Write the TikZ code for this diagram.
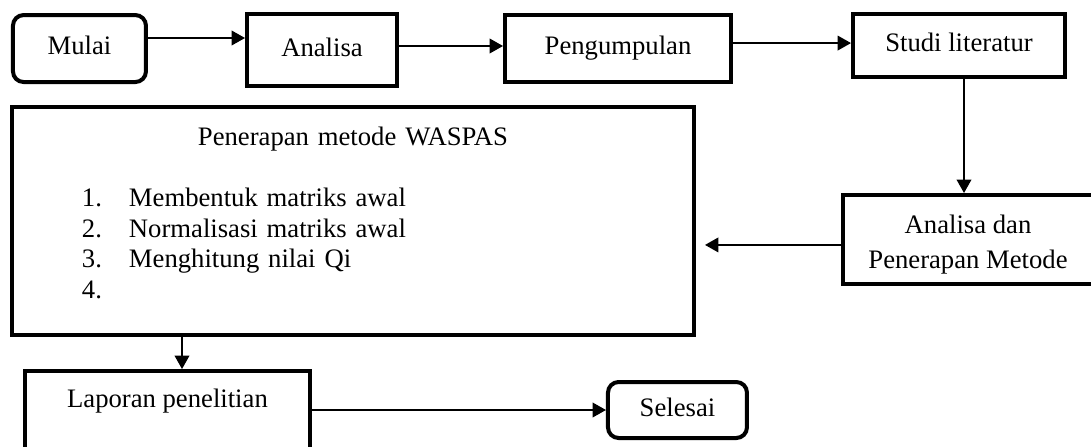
\documentclass[tikz,border=0pt]{standalone}
\usepackage{fontspec}
\setmainfont{Liberation Serif}
\usetikzlibrary{positioning, calc, arrows.meta}
\tikzset{
	procbox/.style={draw, line width=3pt, inner sep=0pt},
	onerow/.style={text height=13.5pt, text depth=4.5pt},
	termbox/.style={procbox, onerow, rounded corners=8pt},
	flow/.style={-{Triangle[length=10pt,width=11pt]}, line width=1.1pt},
}

\begin{document}
\begin{tikzpicture}[font=\fontsize{20}{23}\selectfont]
		\useasboundingbox (0pt,0pt) rectangle (818.25pt,-334.5pt);

		\node[termbox, minimum width=99.75pt, minimum height=50.25pt] (mulai) at (59.6pt,-36.4pt) {Mulai};
		\node[procbox, onerow, minimum width=112.5pt, minimum height=54pt] (analisa) at (241.5pt,-37.5pt) {Analisa};
		\node[procbox, onerow, minimum width=169.5pt, minimum height=50.25pt] (kumpul) at (463.5pt,-36.4pt) {Pengumpulan};
		\node[procbox, onerow, minimum width=159pt, minimum height=47.25pt] (studi) at (719.25pt,-34.1pt) {Studi literatur};
		\node[procbox, minimum width=187.5pt, minimum height=66.75pt, align=center,
			text height=46pt, text depth=3.2pt] (andan) at (726pt,-179.6pt) {Analisa dan\\[3pt] Penerapan Metode};

		\node[procbox, minimum width=511.5pt, minimum height=171pt, text width=511.5pt, align=left,
			text height=15pt, text depth=129pt] (waspas) at (264.75pt,-165.75pt) {%
			\makebox[\hsize]{Penerapan metode WASPAS}\\[23pt]
			\hspace*{52.5pt}\makebox[35.25pt][l]{1.}Membentuk matriks awal\\
			\hspace*{52.5pt}\makebox[35.25pt][l]{2.}Normalisasi matriks awal\\
			\hspace*{52.5pt}\makebox[35.25pt][l]{3.}Menghitung nilai Qi\\
			\hspace*{52.5pt}\makebox[35.25pt][l]{4.}};

		\node[procbox, minimum width=213.75pt, minimum height=75pt,
			label={[anchor=center, yshift=-24pt]north:Laporan penelitian}] (laporan) at (125.6pt,-315.75pt) {};
		\node[termbox, minimum width=104.25pt, minimum height=42pt] (selesai) at (508.1pt,-307.5pt) {Selesai};

		% alur
		\coordinate (m1) at ([yshift=7.9pt]mulai.east);
		\draw[flow] (m1) -- (m1 -| analisa.west);
		\coordinate (a1) at ([yshift=3pt]analisa.east);
		\draw[flow] (a1) -- (a1 -| kumpul.west);
		\coordinate (k1) at ([yshift=4.1pt]kumpul.east);
		\draw[flow] (k1) -- (k1 -| studi.west);
		\coordinate (s1) at ([xshift=3.75pt]studi.south);
		\draw[flow] (s1) -- (s1 |- andan.north);
		\coordinate (d1) at ([yshift=-4.1pt]andan.west);
		\draw[flow, shorten >=6.75pt] (d1) -- (d1 -| waspas.east);
		\coordinate (w1) at ([xshift=10.9pt]laporan.north);
		\draw[flow] (w1 |- waspas.south) -- (w1);
		\draw[flow] (laporan.east |- selesai) -- (selesai);
	\end{tikzpicture}
\end{document}
